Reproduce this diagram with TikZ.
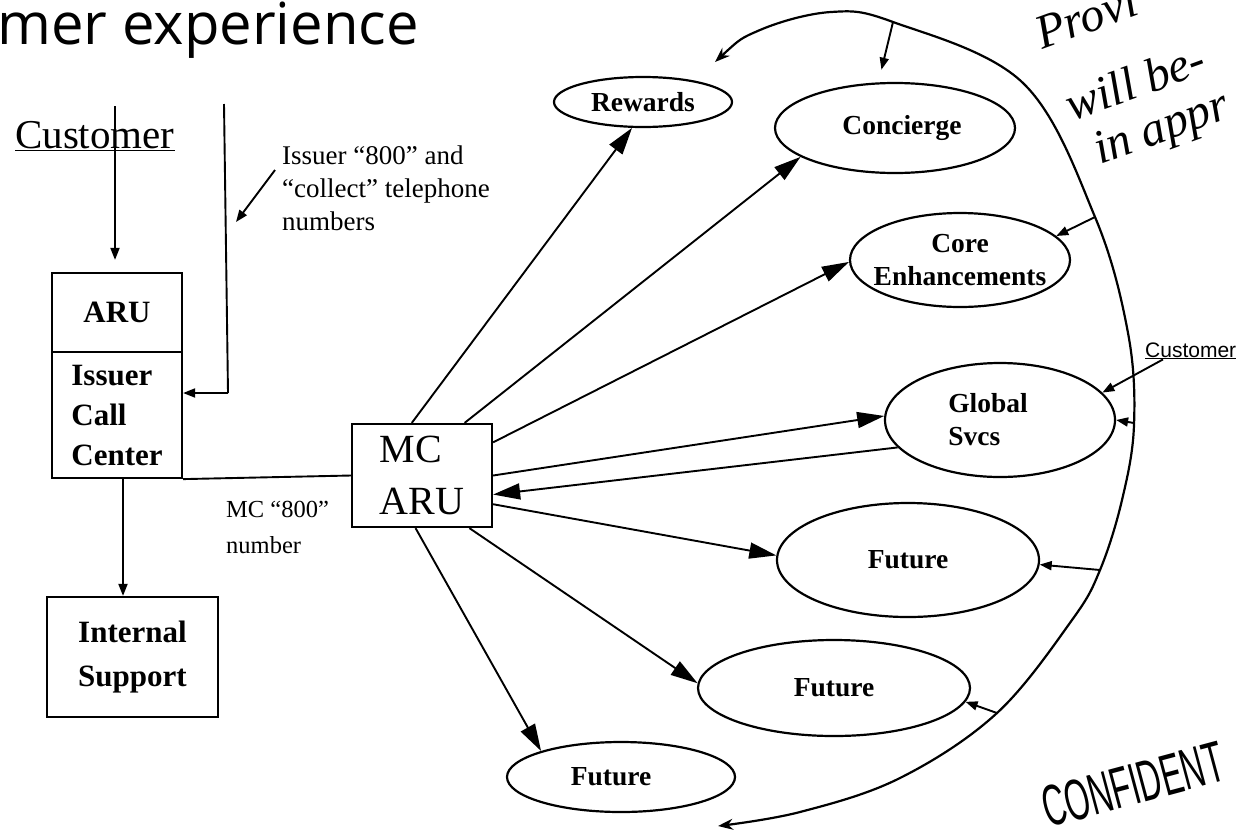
\documentclass[tikz,border=0pt]{standalone}
\usepackage{fontspec}
\setmainfont{Liberation Serif}
\newfontfamily\titlefont{Open Sans}
\newfontfamily\sansf{Liberation Sans}
\usetikzlibrary{arrows.meta,shapes.geometric}
\newcommand\myfs[2]{\fontsize{#1}{#2}\selectfont}
\begin{document}
\begin{tikzpicture}[x=1pt,y=-1pt,
  box/.style={draw,line width=2.2pt,rectangle,inner sep=0pt},
  ell/.style={draw,line width=2.2pt,ellipse,inner sep=0pt,font=\bfseries\myfs{27.5}{33},align=center},
  spoke/.style={line width=1.9pt,-{Triangle[length=27pt,width=16pt]}},
  smallarrow/.style={line width=1.9pt,-{Triangle[length=12pt,width=9pt]}},
  plainline/.style={line width=1.9pt},
  arcline/.style={line width=2.2pt,{Stealth[length=15pt,width=11pt]}-{Stealth[length=15pt,width=11pt]}},
  hand/.style={font=\itshape\myfs{48}{48},inner sep=0pt,anchor=base west,rotate=20},
  plain/.style={inner sep=0pt}]
\useasboundingbox (0,0) rectangle (1241,833);

% title
\node[plain,anchor=base west,font=\titlefont\myfs{58}{62}] (title) at (-3,44) {mer experience};

% left part
\node[plain,anchor=base west,font=\myfs{41}{48}] (cust) at (15,148) {\underline{Customer}};
\node[box,minimum width=130pt,minimum height=79pt,font=\bfseries\myfs{31}{38}] (aru) at (117,312.5) {ARU};
\node[box,minimum width=130pt,minimum height=126pt,font=\bfseries\myfs{31}{40},align=left] (icc) at (117,415) {Issuer\\Call\\Center};
\node[box,minimum width=171pt,minimum height=120pt,font=\bfseries\myfs{31}{44},align=left] (int) at (132.5,657) {Internal\\Support};
\node[box,minimum width=140pt,minimum height=103pt,font=\myfs{40}{52},align=left] (mc) at (422,475.5) {MC\\ARU};

\node[plain,anchor=north west,font=\myfs{27}{33},align=left] (isslbl) at (282,146) {Issuer “800” and\\“collect” telephone\\numbers};
\node[plain,anchor=north west,font=\myfs{24.5}{36},align=left] (mclbl) at (226,500.5) {MC “800”\\number};

\coordinate (c1top) at (115,106);
\coordinate (c2top) at (224,104);
\coordinate (c2bend) at (228,393);
\coordinate (issA) at (275,170);
\coordinate (issB) at (236,222);

\draw[smallarrow,shorten >=12pt] (c1top) -- (c1top |- aru.north);
\draw[plainline] (c2top) -- (c2bend);
\draw[smallarrow] (c2bend) -- (icc.east |- c2bend);
\draw[smallarrow] (issA) -- (issB);
\draw[plainline] (icc.south east) -- (mc.west);
\draw[smallarrow] ([xshift=6pt]icc.south) -- ([xshift=6pt]icc.south |- int.north);

% ellipses
\node[ell,minimum width=178pt,minimum height=50pt] (rew) at (643,102) {Rewards};
\node[ell,minimum width=240pt,minimum height=90pt] (conc) at (895,128) {\hspace*{14pt}Concierge};
\node[ell,minimum width=220pt,minimum height=94pt] (core) at (960,260) {Core\\\makebox[0pt]{Enhancements}};
\node[ell,minimum width=230pt,minimum height=114pt,align=left] (glob) at (1000,420) {\hspace*{-24pt}Global\\\hspace*{-24pt}Svcs};
\node[ell,minimum width=262pt,minimum height=114pt] (fut1) at (908,560) {Future};
\node[ell,minimum width=272pt,minimum height=96pt] (fut2) at (834,688) {Future};
\node[ell,minimum width=228pt,minimum height=70pt] (fut3) at (621,777) {Future\hspace*{20pt}};

% spokes
\draw[spoke] (mc.101) -- (rew.247);
\draw[spoke] (mc.51.5) -- (conc.197);
\draw[spoke] (mc.25.6) -- (core.181);
\draw[spoke] (mc.0) -- (glob.178.5);
\draw[spoke] (glob.195) -- (mc.-15.6);
\draw[spoke] (mc.-22.8) -- (fut1.178);
\draw[spoke] (mc.-48.9) -- (fut2.178);
\draw[spoke] (mc.-97.7) -- (fut3.162);

% big arc
\draw[arcline] plot[smooth,tension=0.6] coordinates {(715,62) (760,30) (831,12) (893,22) (1023,83) (1095,217) (1128,333) (1134,425) (1122,500) (1100,570) (1072,620) (997,713) (900,778) (800,812) (718,826)};
\coordinate (aConc) at (893,22);
\coordinate (aCore) at (1095,217);
\coordinate (aGlob) at (1134,423);
\coordinate (aFut1) at (1100,570);
\coordinate (aFut2) at (997,713);
\draw[smallarrow,shorten >=13pt] (aConc) -- (conc.110);
\draw[smallarrow] (aCore) -- (core.14);
\draw[smallarrow] (aGlob) -- (glob.0);
\draw[smallarrow] (aFut1) -- (fut1.358);
\draw[smallarrow] (aFut2) -- (fut2.354);

% right customer
\node[plain,anchor=base west,font=\sansf\myfs{21}{25}] (cust2) at (1145,357) {\underline{Customer}};
\draw[smallarrow] ([xshift=18pt]cust2.south west) -- (glob.15);

% handwriting
\node[hand] (hw1) at (1042,50) {Provi};
\node[hand] (hw2) at (1072,122) {will be-};
\node[hand] (hw3) at (1100,165) {in appr};

% stamp
\node[plain,anchor=base west,rotate=15,xscale=0.55,font=\sansf\myfs{58}{58}] (conf) at (1048,828) {CONFIDENT};
\end{tikzpicture}
\end{document}
